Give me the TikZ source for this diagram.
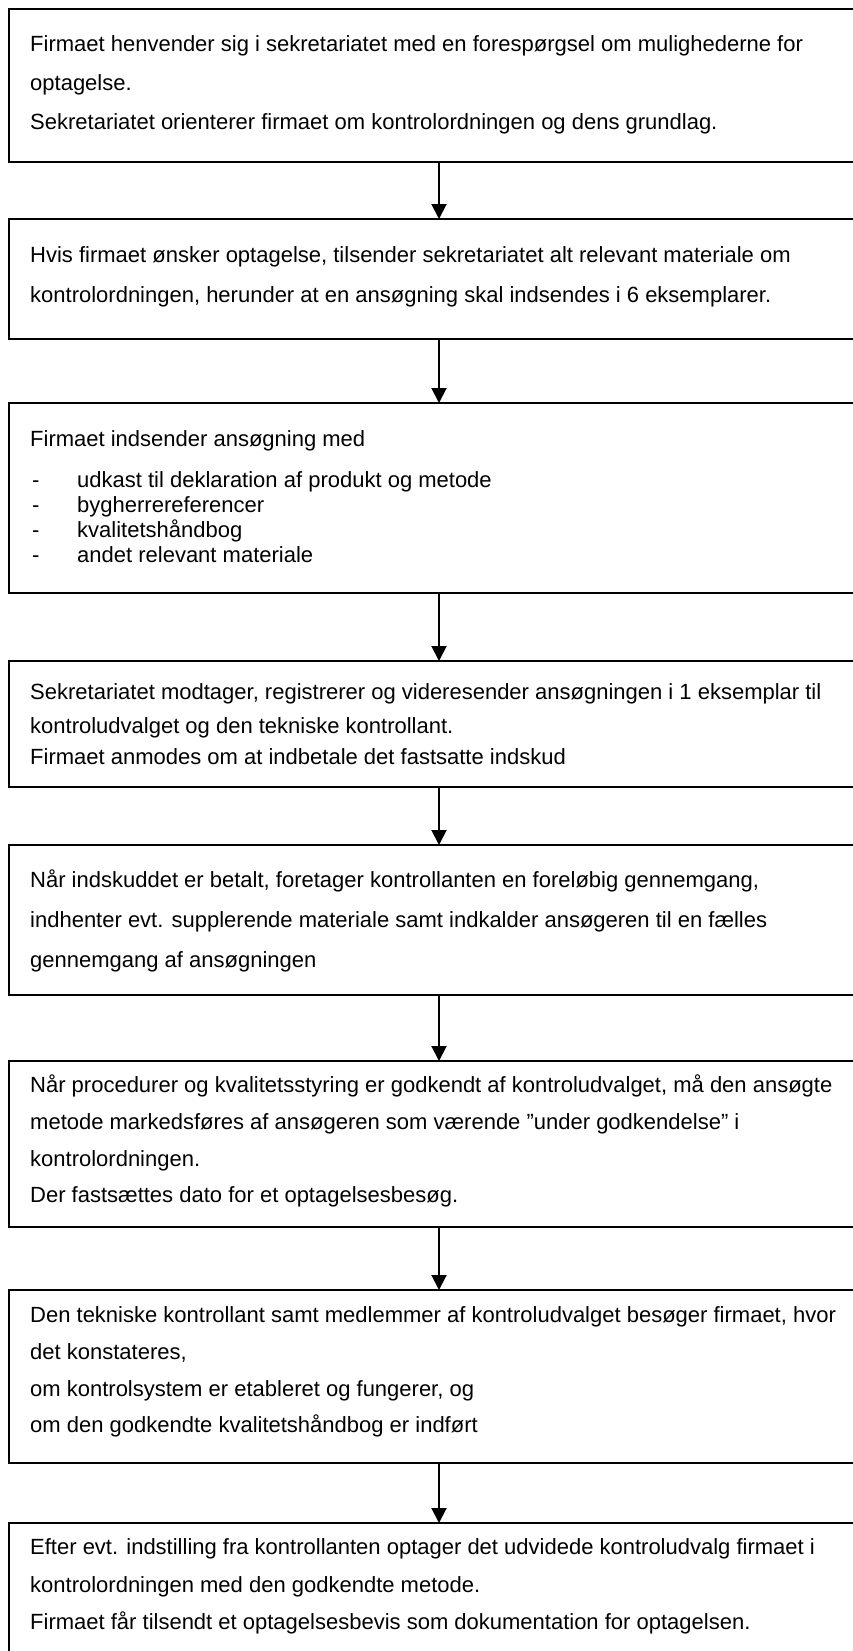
\documentclass[tikz,border=0pt]{standalone}
\usepackage{fontspec}
\setmainfont{Liberation Sans}
\usetikzlibrary{arrows.meta}
\begin{document}
\begin{tikzpicture}[x=1pt,y=-1pt,
  box/.style={draw=black, line width=2pt, rectangle, minimum width=860pt, anchor=north west, inner sep=0pt, outer sep=0pt},
  txt/.style={anchor=base west, inner sep=0pt, font=\fontsize{22}{25}\selectfont},
  arr/.style={draw=black, line width=2pt, -{Triangle[length=15pt,width=15pt]}}]
\clip (0,0) rectangle (853,1651);
\fill[white] (0,0) rectangle (853,1651);
% boxes
\node[box, minimum height=153pt] (b1) at (9,9) {};
\node[box, minimum height=120pt] (b2) at (9,219) {};
\node[box, minimum height=190pt] (b3) at (9,403) {};
\node[box, minimum height=126pt] (b4) at (9,661) {};
\node[box, minimum height=150pt] (b5) at (9,845) {};
\node[box, minimum height=166pt] (b6) at (9,1061) {};
\node[box, minimum height=173pt] (b7) at (9,1290) {};
\node[box, minimum height=200pt] (b8) at (9,1523) {};
% arrows
\draw[arr] (b1.south) -- (b2.north);
\draw[arr] (b2.south) -- (b3.north);
\draw[arr] (b3.south) -- (b4.north);
\draw[arr] (b4.south) -- (b5.north);
\draw[arr] (b5.south) -- (b6.north);
\draw[arr] (b6.south) -- (b7.north);
\draw[arr] (b7.south) -- (b8.north);
% box 1
\node[txt] (t1a) at (30,52) {Firmaet henvender sig i sekretariatet med en forespørgsel om mulighederne for};
\node[txt] (t1b) at (30,91) {optagelse.};
\node[txt] (t1c) at (30,130) {Sekretariatet orienterer firmaet om kontrolordningen og dens grundlag.};
% box 2
\node[txt] (t2a) at (30,262) {Hvis firmaet ønsker optagelse, tilsender sekretariatet alt relevant materiale om};
\node[txt] (t2b) at (30,302) {kontrolordningen, herunder at en ansøgning skal indsendes i 6 eksemplarer.};
% box 3
\node[txt] (t3a) at (30,446) {Firmaet indsender ansøgning med};
\node[txt] (d3a) at (32,487) {-};
\node[txt] (t3b) at (77,487) {udkast til deklaration af produkt og metode};
\node[txt] (d3b) at (32,512) {-};
\node[txt] (t3c) at (77,512) {bygherrereferencer};
\node[txt] (d3c) at (32,537) {-};
\node[txt] (t3d) at (77,537) {kvalitetshåndbog};
\node[txt] (d3d) at (32,562) {-};
\node[txt] (t3e) at (77,562) {andet relevant materiale};
% box 4
\node[txt] (t4a) at (30,699) {Sekretariatet modtager, registrerer og videresender ansøgningen i 1 eksemplar til};
\node[txt] (t4b) at (30,733) {kontroludvalget og den tekniske kontrollant.};
\node[txt] (t4c) at (30,764) {Firmaet anmodes om at indbetale det fastsatte indskud};
% box 5
\node[txt] (t5a) at (30,887) {Når indskuddet er betalt, foretager kontrollanten en foreløbig gennemgang,};
\node[txt] (t5b) at (30,927) {indhenter evt. supplerende materiale samt indkalder ansøgeren til en fælles};
\node[txt] (t5c) at (30,967) {gennemgang af ansøgningen};
% box 6
\node[txt] (t6a) at (30,1092) {Når procedurer og kvalitetsstyring er godkendt af kontroludvalget, må den ansøgte};
\node[txt] (t6b) at (30,1129) {metode markedsføres af ansøgeren som værende ”under godkendelse” i};
\node[txt] (t6c) at (30,1166) {kontrolordningen.};
\node[txt] (t6d) at (30,1202) {Der fastsættes dato for et optagelsesbesøg.};
% box 7
\node[txt] (t7a) at (30,1322) {Den tekniske kontrollant samt medlemmer af kontroludvalget besøger firmaet, hvor};
\node[txt] (t7b) at (30,1359) {det konstateres,};
\node[txt] (t7c) at (30,1396) {om kontrolsystem er etableret og fungerer, og};
\node[txt] (t7d) at (30,1432) {om den godkendte kvalitetshåndbog er indført};
% box 8
\node[txt] (t8a) at (30,1554) {Efter evt. indstilling fra kontrollanten optager det udvidede kontroludvalg firmaet i};
\node[txt] (t8b) at (30,1592) {kontrolordningen med den godkendte metode.};
\node[txt] (t8c) at (30,1629) {Firmaet får tilsendt et optagelsesbevis som dokumentation for optagelsen.};
\end{tikzpicture}
\end{document}
